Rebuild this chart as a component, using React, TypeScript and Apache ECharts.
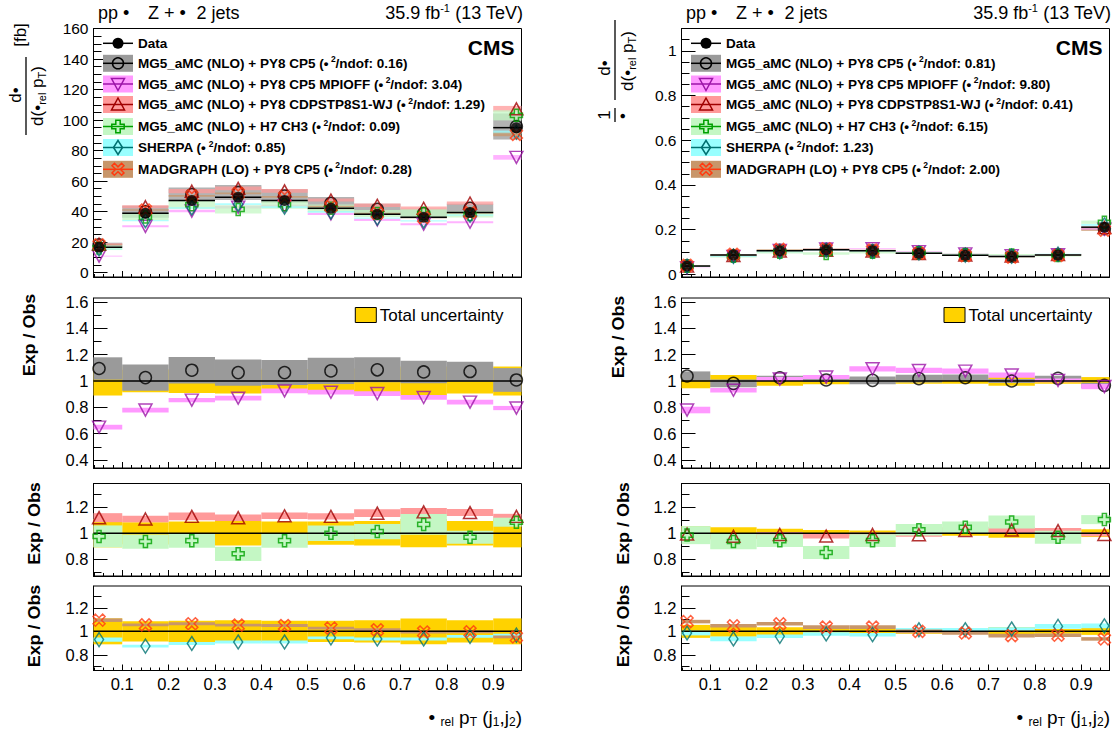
import React, { useEffect, useRef } from 'react';
import * as echarts from 'echarts';

const FONT = '"Liberation Sans", Arial, Helvetica, sans-serif';

// ---------------- binning / ticks ----------------
const BIN_LO = [0.0, 0.1, 0.2, 0.3, 0.4, 0.5, 0.6, 0.7, 0.8, 0.9];
const BIN_HI = [0.1, 0.2, 0.3, 0.4, 0.5, 0.6, 0.7, 0.8, 0.9, 1.0];
const BIN_MID = [0.05, 0.15, 0.25, 0.35, 0.45, 0.55, 0.65, 0.75, 0.85, 0.95];

const X_TICKS = [0.1, 0.2, 0.3, 0.4, 0.5, 0.6, 0.7, 0.8, 0.9];
const Y_TICKS_ABS = [0, 20, 40, 60, 80, 100, 120, 140, 160];
const Y_TICKS_NORM = [0, 0.2, 0.4, 0.6, 0.8, 1];
const Y_TICKS_R1 = [0.4, 0.6, 0.8, 1, 1.2, 1.4, 1.6];
const Y_TICKS_R23 = [0.8, 1, 1.2];
const Y_MINOR_NORM = [0.05, 0.1, 0.15, 0.25, 0.3, 0.35, 0.45, 0.5, 0.55, 0.65, 0.7, 0.75, 0.85, 0.9, 0.95, 1.05];
const Y_MINOR_R1 = [0.5, 0.7, 0.9, 1.1, 1.3, 1.5];
const Y_MINOR_R23 = [0.7, 0.9, 1.1, 1.3];

// ---------------- measured data ----------------
const DATA_ABS = [16.6, 38.9, 47.2, 49.3, 47.2, 42.1, 38.2, 36.2, 39.3, 95.0];
const DATA_NORM = [0.037, 0.086, 0.105, 0.110, 0.105, 0.094, 0.085, 0.080, 0.087, 0.211];
const TOTAL_UNC_ABS = [0.11, 0.085, 0.09, 0.095, 0.09, 0.09, 0.095, 0.11, 0.095, 0.11];
const TOTAL_UNC_NORM = [0.055, 0.045, 0.035, 0.025, 0.02, 0.02, 0.02, 0.035, 0.02, 0.03];

// ---------------- predictions: Exp/Obs ratio and band half width ----------------
const MG5_R_ABS = [1.095, 1.026, 1.082, 1.064, 1.064, 1.077, 1.085, 1.069, 1.072, 1.008];
const MG5_U_ABS = [0.085, 0.1, 0.1, 0.1, 0.095, 0.1, 0.095, 0.085, 0.075, 0.09];
const MPI_R_ABS = [0.65, 0.78, 0.855, 0.87, 0.925, 0.915, 0.905, 0.875, 0.84, 0.795];
const MPI_U_ABS = [0.018, 0.018, 0.016, 0.018, 0.018, 0.018, 0.018, 0.018, 0.018, 0.016];
const CDPS_R_ABS = [1.12, 1.11, 1.13, 1.12, 1.135, 1.13, 1.155, 1.165, 1.16, 1.13];
const CDPS_U_ABS = [0.035, 0.025, 0.03, 0.025, 0.025, 0.025, 0.03, 0.03, 0.027, 0.02];
const H7_R_ABS = [0.975, 0.935, 0.942, 0.84, 0.942, 1.0, 1.012, 1.068, 0.968, 1.085];
const H7_U_ABS = [0.085, 0.055, 0.055, 0.055, 0.055, 0.06, 0.06, 0.08, 0.05, 0.035];
const SHE_R_ABS = [0.93, 0.875, 0.897, 0.91, 0.91, 0.945, 0.935, 0.935, 0.958, 0.968];
const SHE_U_ABS = [0.018, 0.012, 0.012, 0.012, 0.012, 0.012, 0.012, 0.012, 0.012, 0.012];
const MAD_R_ABS = [1.095, 1.055, 1.065, 1.053, 1.05, 1.028, 1.014, 0.995, 0.997, 0.953];
const MAD_U_ABS = [0.015, 0.012, 0.012, 0.012, 0.012, 0.012, 0.012, 0.012, 0.012, 0.012];

const MG5_R_NORM = [1.038, 0.982, 1.025, 1.008, 1.005, 1.018, 1.025, 1.0, 1.02, 0.967];
const MG5_U_NORM = [0.035, 0.03, 0.015, 0.015, 0.03, 0.03, 0.025, 0.015, 0.02, 0.02];
const MPI_R_NORM = [0.78, 0.93, 1.015, 1.03, 1.093, 1.08, 1.075, 1.045, 1.005, 0.958];
const MPI_U_NORM = [0.025, 0.018, 0.015, 0.015, 0.02, 0.02, 0.02, 0.02, 0.015, 0.02];
const CDPS_R_NORM = [0.993, 0.976, 0.99, 0.978, 0.99, 0.988, 1.02, 1.025, 1.02, 0.99];
const CDPS_U_NORM = [0.02, 0.02, 0.02, 0.02, 0.015, 0.015, 0.025, 0.025, 0.02, 0.015];
const H7_R_NORM = [0.985, 0.935, 0.942, 0.85, 0.942, 1.026, 1.045, 1.087, 0.968, 1.105];
const H7_U_NORM = [0.07, 0.06, 0.05, 0.05, 0.05, 0.045, 0.045, 0.05, 0.05, 0.035];
const SHE_R_NORM = [0.986, 0.936, 0.958, 0.978, 0.972, 1.014, 1.014, 1.02, 1.042, 1.047];
const SHE_U_NORM = [0.02, 0.02, 0.015, 0.015, 0.015, 0.015, 0.015, 0.015, 0.02, 0.02];
const MAD_R_NORM = [1.083, 1.047, 1.064, 1.036, 1.036, 1.0, 0.986, 0.964, 0.967, 0.936];
const MAD_U_NORM = [0.015, 0.015, 0.015, 0.015, 0.015, 0.015, 0.015, 0.015, 0.015, 0.015];

const MODEL_NAMES = [
  'MG5_aMC (NLO) + PY8 CP5',
  'MG5_aMC (NLO) + PY8 CP5 MPIOFF',
  'MG5_aMC (NLO) + PY8 CDPSTP8S1-WJ',
  'MG5_aMC (NLO) + H7 CH3',
  'SHERPA',
  'MADGRAPH (LO) + PY8 CP5',
];
const CHI2_ABS = ['0.16', '3.04', '1.29', '0.09', '0.85', '0.28'];
const CHI2_NORM = ['0.81', '9.80', '0.41', '6.15', '1.23', '2.00'];

// ---------------- styles ----------------
const SYM = {
  circle: 'circle',
  triDown: 'path://M0,0 L10,0 L5,9.5 Z',
  triUp: 'path://M5,0 L10,9.5 L0,9.5 Z',
  plus: 'path://M3.3,0 L6.7,0 L6.7,3.3 L10,3.3 L10,6.7 L6.7,6.7 L6.7,10 L3.3,10 L3.3,6.7 L0,6.7 L0,3.3 L3.3,3.3 Z',
  diamond: 'diamond',
  xcross: 'path://M2,0 L5,3 L8,0 L10,2 L7,5 L10,8 L8,10 L5,7 L2,10 L0,8 L3,5 L0,2 Z',
};
const MODEL_STYLE = [
  { band: '#9a9a9a', marker: '#000000', kind: 'circle', size: [12, 12], panel: 1 },
  { band: '#ff99ff', marker: '#9c14a8', kind: 'triDown', size: [13, 12], panel: 1 },
  { band: '#ff9a9a', marker: '#a00000', kind: 'triUp', size: [13, 12], panel: 2 },
  { band: '#c4f7c4', marker: '#00a000', kind: 'plus', size: [12, 12], panel: 2 },
  { band: '#99ffff', marker: '#007272', kind: 'diamond', size: [9, 14], panel: 3 },
  { band: '#c8966a', marker: '#ff3a10', kind: 'xcross', size: [12, 12], panel: 3 },
];
const YELLOW = '#ffd200';

const X_MIN = 0.038;
const X_MAX = 0.961;
const COL_LEFT = [93.5, 681.5];
const COL_W = 428;
const ROWS = [
  { top: 28.5, h: 248.5 },
  { top: 298, h: 170 },
  { top: 483.5, h: 92.5 },
  { top: 586, h: 84.5 },
];

function minorList(lo: number, hi: number, step: number, skip: number[]) {
  const out: number[] = [];
  const n = Math.round((hi - lo) / step);
  for (let i = 0; i <= n; i++) {
    const v = Math.round((lo + i * step) * 1000) / 1000;
    if (!skip.some((s) => Math.abs(s - v) < 1e-6)) out.push(v);
  }
  return out;
}
const X_MINOR = minorList(0.04, 0.96, 0.02, X_TICKS);
const Y_MINOR_ABS = minorList(5, 155, 5, Y_TICKS_ABS);

function clampRect(cs: any, a: number[], b: number[]) {
  const x0 = Math.max(Math.min(a[0], b[0]), cs.x);
  const x1 = Math.min(Math.max(a[0], b[0]), cs.x + cs.width);
  const y0 = Math.max(Math.min(a[1], b[1]), cs.y);
  const y1 = Math.min(Math.max(a[1], b[1]), cs.y + cs.height);
  return { x0, x1, y0, y1 };
}

function bandSeries(p: number, rows: number[][], color: string, z: number, opacity = 1) {
  return {
    type: 'custom',
    xAxisIndex: p,
    yAxisIndex: p,
    z,
    silent: true,
    data: rows,
    encode: { x: [0, 1], y: [2, 3] },
    renderItem: (params: any, api: any) => {
      const cs = params.coordSys;
      const a = api.coord([api.value(0), api.value(2)]);
      const b = api.coord([api.value(1), api.value(3)]);
      const r = clampRect(cs, a, b);
      if (r.x1 <= r.x0 || r.y1 <= r.y0) return { type: 'group', children: [] };
      return {
        type: 'rect',
        shape: { x: r.x0, y: r.y0, width: r.x1 - r.x0, height: r.y1 - r.y0 },
        style: { fill: color, opacity },
      };
    },
  };
}

function hbarSeries(p: number, rows: number[][], z: number) {
  return {
    type: 'custom',
    xAxisIndex: p,
    yAxisIndex: p,
    z,
    silent: true,
    data: rows,
    encode: { x: [0, 1], y: 2 },
    renderItem: (params: any, api: any) => {
      const cs = params.coordSys;
      const a = api.coord([api.value(0), api.value(2)]);
      const b = api.coord([api.value(1), api.value(2)]);
      const x0 = Math.max(a[0], cs.x);
      const x1 = Math.min(b[0], cs.x + cs.width);
      return {
        type: 'line',
        shape: { x1: x0, y1: a[1], x2: x1, y2: a[1] },
        style: { stroke: '#000', lineWidth: 1.5 },
      };
    },
  };
}

function markerSeries(p: number, pts: number[][], st: any, z: number, filled = false) {
  return {
    type: 'scatter',
    xAxisIndex: p,
    yAxisIndex: p,
    z,
    silent: true,
    symbol: (SYM as any)[st.kind],
    symbolSize: st.size,
    data: pts,
    itemStyle: filled
      ? { color: st.marker }
      : { color: 'rgba(0,0,0,0)', borderColor: st.marker, borderWidth: 1.5 },
    emphasis: { disabled: true },
  };
}

function legendMarker(kind: string, cx: number, cy: number, color: string) {
  const st = { stroke: color, fill: 'none', lineWidth: 1.5 };
  if (kind === 'circle') return { type: 'circle', z: 101, shape: { cx, cy, r: 5.5 }, style: st };
  if (kind === 'triDown')
    return { type: 'polygon', z: 101, shape: { points: [[cx - 6.5, cy - 5.5], [cx + 6.5, cy - 5.5], [cx, cy + 6.5]] }, style: st };
  if (kind === 'triUp')
    return { type: 'polygon', z: 101, shape: { points: [[cx, cy - 6.5], [cx + 6.5, cy + 5.5], [cx - 6.5, cy + 5.5]] }, style: st };
  if (kind === 'plus') {
    const a = 2.2, b = 6.2;
    return {
      type: 'polygon', z: 101,
      shape: { points: [[cx - a, cy - b], [cx + a, cy - b], [cx + a, cy - a], [cx + b, cy - a], [cx + b, cy + a], [cx + a, cy + a], [cx + a, cy + b], [cx - a, cy + b], [cx - a, cy + a], [cx - b, cy + a], [cx - b, cy - a], [cx - a, cy - a]] },
      style: st,
    };
  }
  if (kind === 'diamond')
    return { type: 'polygon', z: 101, shape: { points: [[cx, cy - 7], [cx + 4.5, cy], [cx, cy + 7], [cx - 4.5, cy]] }, style: st };
  const s = 1.2;
  const pts = [[2, 0], [5, 3], [8, 0], [10, 2], [7, 5], [10, 8], [8, 10], [5, 7], [2, 10], [0, 8], [3, 5], [0, 2]].map((q) => [cx + (q[0] - 5) * s, cy + (q[1] - 5) * s]);
  return { type: 'polygon', z: 101, shape: { points: pts }, style: st };
}

function txt(x: number, y: number, text: string, size: number, opts: any = {}) {
  const { rich, align = 'left', vAlign = 'middle', weight = 'normal', rotation = 0, scaleX = 1, scaleY = 1 } = opts;
  return {
    type: 'text',
    x, y, rotation, scaleX, scaleY, z: 110,
    style: {
      text, fill: '#000', fontSize: size, fontFamily: FONT, fontWeight: weight,
      align, verticalAlign: vAlign, rich,
    },
  };
}

function supRich(size: number, weight = 'normal', gap = 0) {
  return {
    sup: { fontSize: size, fontFamily: FONT, fontWeight: weight, fill: '#000', padding: [0, 0, size * 0.9, gap] },
    sub: { fontSize: size, fontFamily: FONT, fontWeight: weight, fill: '#000', padding: [size * 0.9, 0, 0, 0] },
  };
}

function buildOption() {
  const grid: any[] = [];
  const xAxis: any[] = [];
  const yAxis: any[] = [];
  const series: any[] = [];
  const graphic: any[] = [];

  const minorX: any[] = [];
  const minorY: any[] = [];

  for (let col = 0; col < 2; col++) {
    const isAbs = col === 0;
    const data = isAbs ? DATA_ABS : DATA_NORM;
    const tot = isAbs ? TOTAL_UNC_ABS : TOTAL_UNC_NORM;
    const R = isAbs
      ? [MG5_R_ABS, MPI_R_ABS, CDPS_R_ABS, H7_R_ABS, SHE_R_ABS, MAD_R_ABS]
      : [MG5_R_NORM, MPI_R_NORM, CDPS_R_NORM, H7_R_NORM, SHE_R_NORM, MAD_R_NORM];
    const U = isAbs
      ? [MG5_U_ABS, MPI_U_ABS, CDPS_U_ABS, H7_U_ABS, SHE_U_ABS, MAD_U_ABS]
      : [MG5_U_NORM, MPI_U_NORM, CDPS_U_NORM, H7_U_NORM, SHE_U_NORM, MAD_U_NORM];
    const chi2 = isAbs ? CHI2_ABS : CHI2_NORM;

    for (let row = 0; row < 4; row++) {
      const p = col * 4 + row;
      grid.push({
        left: COL_LEFT[col], top: ROWS[row].top, width: COL_W, height: ROWS[row].h,
        show: true, borderColor: '#000', borderWidth: 1, backgroundColor: 'transparent',
      });
      const isBottom = row === 3;
      xAxis.push({
        type: 'value', gridIndex: p, min: X_MIN, max: X_MAX, position: 'bottom',
        axisLine: { show: true, onZero: false, lineStyle: { color: '#000', width: 1 } },
        axisTick: { show: true, inside: true, length: 6, customValues: X_TICKS, lineStyle: { color: '#000' } },
        axisLabel: {
          show: isBottom, customValues: X_TICKS, color: '#000', fontSize: 16.5, fontFamily: FONT, margin: 5,
        },
        splitLine: { show: false },
      });
      minorX.push({
        type: 'value', gridIndex: p, min: X_MIN, max: X_MAX, position: 'bottom', offset: 0,
        axisLine: { show: false, onZero: false },
        axisTick: { show: true, inside: true, length: 3, customValues: X_MINOR, lineStyle: { color: '#000' } },
        axisLabel: { show: false },
        splitLine: { show: false },
      });
      let ymin = 0, ymax = 1, yt: number[] = [], ym: number[] = [], lsize = 16.5;
      if (row === 0) {
        if (isAbs) { ymin = -2.9; ymax = 160; yt = Y_TICKS_ABS; ym = Y_MINOR_ABS; }
        else { ymin = -0.012; ymax = 1.1; yt = Y_TICKS_NORM; ym = Y_MINOR_NORM; }
        lsize = 15.5;
      } else if (row === 1) { ymin = 0.34; ymax = 1.63; yt = Y_TICKS_R1; ym = Y_MINOR_R1; }
      else { ymin = 0.668; ymax = 1.385; yt = Y_TICKS_R23; ym = Y_MINOR_R23; }
      yAxis.push({
        type: 'value', gridIndex: p, min: ymin, max: ymax, position: 'left',
        axisLine: { show: true, onZero: false, lineStyle: { color: '#000', width: 1 } },
        axisTick: { show: true, inside: true, length: 14, customValues: yt, lineStyle: { color: '#000' } },
        axisLabel: { show: true, customValues: yt, color: '#000', fontSize: lsize, fontFamily: FONT, margin: 5 },
        splitLine: { show: false },
      });
      minorY.push({
        type: 'value', gridIndex: p, min: ymin, max: ymax, position: 'left', offset: 0,
        axisLine: { show: false, onZero: false },
        axisTick: { show: true, inside: true, length: 8, customValues: ym, lineStyle: { color: '#000' } },
        axisLabel: { show: false },
        splitLine: { show: false },
      });

      if (row === 0) {
        for (let m = 0; m < 6; m++) {
          const rows = BIN_MID.map((_, i) => [BIN_LO[i], BIN_HI[i], (R[m][i] - U[m][i]) * data[i], (R[m][i] + U[m][i]) * data[i]]);
          series.push(bandSeries(p, rows, MODEL_STYLE[m].band, 1, 0.75));
        }
        series.push(hbarSeries(p, BIN_MID.map((_, i) => [BIN_LO[i], BIN_HI[i], data[i]]), 3));
        for (let m = 0; m < 6; m++) {
          const pts = BIN_MID.map((x, i) => [x, R[m][i] * data[i]]);
          series.push(markerSeries(p, pts, MODEL_STYLE[m], 4));
        }
        series.push(markerSeries(p, BIN_MID.map((x, i) => [x, data[i]]),
          { kind: 'circle', size: [11, 11], marker: '#000' }, 5, true));
      } else {
        series.push(bandSeries(p, BIN_MID.map((_, i) => [BIN_LO[i], BIN_HI[i], 1 - tot[i], 1 + tot[i]]), YELLOW, 1));
        const models = [0, 1, 2, 3, 4, 5].filter((m) => MODEL_STYLE[m].panel === row);
        for (const m of models) {
          const rows = BIN_MID.map((_, i) => [BIN_LO[i], BIN_HI[i], R[m][i] - U[m][i], R[m][i] + U[m][i]]);
          series.push(bandSeries(p, rows, MODEL_STYLE[m].band, 2));
        }
        series.push({
          type: 'line', xAxisIndex: p, yAxisIndex: p, z: 3, silent: true, symbol: 'none',
          data: [[X_MIN, 1], [X_MAX, 1]], lineStyle: { color: '#000', width: 1.5 },
        });
        for (const m of models) {
          series.push(markerSeries(p, BIN_MID.map((x, i) => [x, R[m][i]]), MODEL_STYLE[m], 4));
        }
      }
    }

    // ---------- decorations (graphic) ----------
    const L = COL_LEFT[col];
    const Rt = L + COL_W;
    graphic.push(txt(L + 4.5, 13, 'pp •', 18));
    graphic.push(txt(L + 54.5, 13, 'Z + •', 18));
    graphic.push(txt(L + 103, 13, '2 jets', 18));
    graphic.push(txt(Rt + 1.5, 13, '35.9 fb{sup|-1} (13 TeV)', 18, { align: 'right', rich: supRich(11) }));
    graphic.push(txt(Rt - 7, 47.5, 'CMS', 21, { align: 'right', weight: 'bold' }));

    // legend
    const rowsY = [43.3, 63.3, 84, 104.5, 126.5, 147.5, 169.3];
    const bx0 = L + 9.5, bx1 = L + 39.5, bcx = (bx0 + bx1) / 2, tx = L + 44.5;
    graphic.push({ type: 'line', z: 100, shape: { x1: bx0, y1: rowsY[0], x2: bx1, y2: rowsY[0] }, style: { stroke: '#000', lineWidth: 1.5 } });
    graphic.push({ type: 'circle', z: 101, shape: { cx: bcx, cy: rowsY[0], r: 5.5 }, style: { fill: '#000' } });
    graphic.push(txt(tx, rowsY[0], 'Data', 13.5, { weight: 'bold' }));
    for (let m = 0; m < 6; m++) {
      const y = rowsY[m + 1];
      const st = MODEL_STYLE[m];
      graphic.push({ type: 'rect', z: 100, shape: { x: bx0, y: y - 8.5, width: bx1 - bx0, height: 17 }, style: { fill: st.band } });
      graphic.push({ type: 'line', z: 100, shape: { x1: bx0, y1: y, x2: bx1, y2: y }, style: { stroke: st.marker, lineWidth: 1.5 } });
      graphic.push(legendMarker(st.kind, bcx, y, st.marker));
      graphic.push(txt(tx, y, `${MODEL_NAMES[m]} (•{sup|2}/ndof: ${chi2[m]})`, 13.5, { weight: 'bold', rich: supRich(8.5, 'bold', 2.5) }));
    }

    // total uncertainty legend in first ratio panel
    const ux = col === 0 ? 355.3 : 944;
    graphic.push({ type: 'rect', z: 100, shape: { x: ux, y: 307.5, width: 21, height: 15 }, style: { fill: YELLOW, stroke: '#000', lineWidth: 1 } });
    graphic.push(txt(ux + 24.5, 315, 'Total uncertainty', 17));

    // x title
    graphic.push(txt(Rt + 0.5, 717, '• {sub|rel} p{sub|T} (j{sub|1},j{sub|2})', 19, { align: 'right', rich: supRich(12) }));

    // Exp / Obs titles
    const eo = col === 0 ? [[29.5, 335], [35, 523.5], [35, 626]] : [[619, 337], [624, 523.5], [624, 626]];
    for (const e of eo) {
      graphic.push(txt(e[0], e[1], 'Exp / Obs', 16, { align: 'center', weight: 'bold', rotation: Math.PI / 2, scaleX: 1.12 }));
    }
  }

  // y titles of the main panels
  const rot = Math.PI / 2;
  const rich17 = supRich(11);
  graphic.push(txt(20, 35, '[fb]', 17, { align: 'center', rotation: rot }));
  graphic.push(txt(15, 95, 'd•', 17, { align: 'center', rotation: rot }));
  graphic.push({ type: 'line', z: 110, shape: { x1: 26, y1: 57, x2: 26, y2: 135 }, style: { stroke: '#000', lineWidth: 1.3 } });
  graphic.push(txt(37, 96, 'd(•{sub|rel} p{sub|T})', 17, { align: 'center', rotation: rot, rich: rich17 }));

  graphic.push(txt(604, 68, 'd•', 17, { align: 'center', rotation: rot }));
  graphic.push({ type: 'line', z: 110, shape: { x1: 615, y1: 20, x2: 615, y2: 100 }, style: { stroke: '#000', lineWidth: 1.3 } });
  graphic.push(txt(627, 61, 'd(•{sub|rel} p{sub|T})', 17, { align: 'center', rotation: rot, rich: rich17 }));
  graphic.push(txt(604, 115, '1', 17, { align: 'center', rotation: rot }));
  graphic.push({ type: 'line', z: 110, shape: { x1: 615, y1: 108, x2: 615, y2: 122 }, style: { stroke: '#000', lineWidth: 1.3 } });
  graphic.push(txt(622, 116, '•', 17, { align: 'center', rotation: rot }));

  return {
    animation: false,
    backgroundColor: '#ffffff',
    grid,
    xAxis: [...xAxis, ...minorX],
    yAxis: [...yAxis, ...minorY],
    series,
    graphic: { elements: graphic },
  };
}

export default function App() {
  const ref = useRef<HTMLDivElement>(null);
  useEffect(() => {
    if (!ref.current) return;
    const chart = echarts.init(ref.current, undefined, { renderer: 'svg' });
    chart.setOption(buildOption() as any);
    return () => chart.dispose();
  }, []);
  return (
    <div
      ref={ref}
      style={{ position: 'fixed', left: 0, top: 0, width: 1117, height: 731, background: '#fff' }}
    />
  );
}
